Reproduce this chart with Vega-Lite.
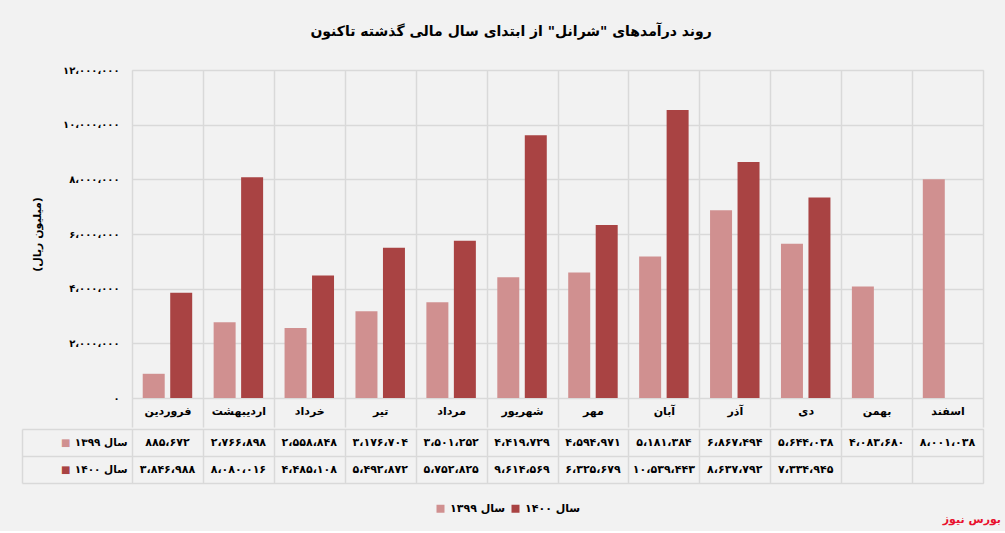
{
  "$schema": "https://vega.github.io/schema/vega-lite/v6.json",
  "background": "#f2f2f2",
  "padding": {"left": 20, "right": 5, "top": 24, "bottom": 5},
  "config": {
    "locale": {
      "number": {
        "decimal": ".",
        "thousands": "،",
        "grouping": [3],
        "currency": ["", ""],
        "numerals": ["۰", "۱", "۲", "۳", "۴", "۵", "۶", "۷", "۸", "۹"]
      }
    },
    "font": "DejaVu Sans",
    "view": {"stroke": "#d9d9d9", "fill": "#f2f2f2"},
    "axis": {
      "labelFont": "DejaVu Sans",
      "labelFontWeight": "bold",
      "labelColor": "#000000",
      "gridColor": "#d9d9d9",
      "gridWidth": 1.5,
      "domain": false,
      "ticks": false
    }
  },
  "title": {
    "text": "روند درآمدهای \"شرانل\" از ابتدای سال مالی گذشته تاکنون",
    "font": "DejaVu Sans",
    "fontSize": 14,
    "fontWeight": "bold",
    "color": "#000000",
    "anchor": "middle",
    "offset": 26
  },
  "data": {
    "values": [
      {"month": "فروردین", "year": "سال ۱۳۹۹", "value": 885672},
      {"month": "فروردین", "year": "سال ۱۴۰۰", "value": 3846988},
      {"month": "اردیبهشت", "year": "سال ۱۳۹۹", "value": 2766898},
      {"month": "اردیبهشت", "year": "سال ۱۴۰۰", "value": 8080016},
      {"month": "خرداد", "year": "سال ۱۳۹۹", "value": 2558848},
      {"month": "خرداد", "year": "سال ۱۴۰۰", "value": 4485108},
      {"month": "تیر", "year": "سال ۱۳۹۹", "value": 3176704},
      {"month": "تیر", "year": "سال ۱۴۰۰", "value": 5492872},
      {"month": "مرداد", "year": "سال ۱۳۹۹", "value": 3501252},
      {"month": "مرداد", "year": "سال ۱۴۰۰", "value": 5752825},
      {"month": "شهریور", "year": "سال ۱۳۹۹", "value": 4419729},
      {"month": "شهریور", "year": "سال ۱۴۰۰", "value": 9614569},
      {"month": "مهر", "year": "سال ۱۳۹۹", "value": 4594971},
      {"month": "مهر", "year": "سال ۱۴۰۰", "value": 6325679},
      {"month": "آبان", "year": "سال ۱۳۹۹", "value": 5181384},
      {"month": "آبان", "year": "سال ۱۴۰۰", "value": 10539443},
      {"month": "آذر", "year": "سال ۱۳۹۹", "value": 6867494},
      {"month": "آذر", "year": "سال ۱۴۰۰", "value": 8637792},
      {"month": "دی", "year": "سال ۱۳۹۹", "value": 5644038},
      {"month": "دی", "year": "سال ۱۴۰۰", "value": 7334945},
      {"month": "بهمن", "year": "سال ۱۳۹۹", "value": 4083680},
      {"month": "اسفند", "year": "سال ۱۳۹۹", "value": 8001038}
    ]
  },
  "spacing": -7,
  "vconcat": [
    {
      "width": 851,
      "height": 328,
      "mark": {"type": "bar"},
      "encoding": {
        "x": {
          "field": "month",
          "type": "nominal",
          "sort": ["فروردین", "اردیبهشت", "خرداد", "تیر", "مرداد", "شهریور", "مهر", "آبان", "آذر", "دی", "بهمن", "اسفند"],
          "scale": {"paddingInner": 0, "paddingOuter": 0},
          "axis": {
            "title": null,
            "orient": "bottom",
            "labelAngle": 0,
            "labelFontSize": 11,
            "tickBand": "extent",
            "ticks": true,
            "tickSize": 29,
            "tickWidth": 1.5,
            "tickColor": "#d9d9d9",
            "grid": true,
            "labelPadding": -22
          }
        },
        "xOffset": {
          "field": "year",
          "type": "nominal",
          "sort": ["سال ۱۳۹۹", "سال ۱۴۰۰"],
          "scale": {"paddingInner": 0.2, "paddingOuter": 0.39}
        },
        "y": {
          "field": "value",
          "type": "quantitative",
          "scale": {"domain": [0, 12000000]},
          "axis": {
            "title": "(میلیون ریال)",
            "titleFont": "DejaVu Sans",
            "titleFontSize": 11,
            "titleFontWeight": "bold",
            "titleColor": "#000000",
            "titlePadding": 20,
            "values": [0, 2000000, 4000000, 6000000, 8000000, 10000000, 12000000],
            "format": ",.0f",
            "labelFontSize": 10,
            "labelPadding": 13,
            "grid": true
          }
        },
        "color": {
          "field": "year",
          "type": "nominal",
          "scale": {"domain": ["سال ۱۳۹۹", "سال ۱۴۰۰"], "range": ["#d09090", "#a94343"]},
          "legend": {
            "orient": "none",
            "legendX": 303,
            "legendY": 433,
            "direction": "horizontal",
            "title": null,
            "symbolType": "square",
            "symbolSize": 64,
            "symbolStrokeWidth": 0,
            "labelFont": "DejaVu Sans",
            "labelFontSize": 11,
            "labelFontWeight": "bold",
            "labelColor": "#000000",
            "columnPadding": 4,
            "labelOffset": 4
          }
        }
      }
    },
    {
      "width": 851,
      "height": 54,
      "title": {
        "text": "بورس نیوز",
        "orient": "bottom",
        "anchor": "end",
        "color": "#e8112d",
        "font": "DejaVu Sans",
        "fontSize": 11,
        "fontWeight": "bold",
        "offset": 30,
        "dx": 18
      },
      "encoding": {
        "x": {
          "field": "month",
          "type": "nominal",
          "sort": ["فروردین", "اردیبهشت", "خرداد", "تیر", "مرداد", "شهریور", "مهر", "آبان", "آذر", "دی", "بهمن", "اسفند"],
          "scale": {"paddingInner": 0, "paddingOuter": 0},
          "axis": {"title": null, "labels": false, "grid": true, "tickBand": "extent"}
        },
        "text": {"field": "value", "type": "quantitative", "format": ","}
      },
      "layer": [
        {
          "mark": {"type": "text", "fontWeight": "bold", "fontSize": 11, "font": "DejaVu Sans", "color": "#000000"},
          "encoding": {
            "y": {
              "field": "year",
              "type": "nominal",
              "sort": ["سال ۱۳۹۹", "سال ۱۴۰۰"],
              "scale": {"paddingInner": 0, "paddingOuter": 0},
              "axis": {
                "title": null,
                "orient": "left",
                "grid": true,
                "tickBand": "extent",
                "labelFontSize": 10.5,
                "labelPadding": 5
              }
            }
          }
        },
        {
          "mark": {"type": "text", "opacity": 0},
          "encoding": {
            "y": {
              "field": "year",
              "type": "nominal",
              "sort": ["سال ۱۳۹۹", "سال ۱۴۰۰"],
              "axis": {
                "title": null,
                "orient": "left",
                "offset": 0,
                "grid": false,
                "ticks": true,
                "tickBand": "extent",
                "tickSize": 110,
                "tickWidth": 1.5,
                "tickColor": "#d9d9d9",
                "labelExpr": "datum.value == 'سال ۱۳۹۹' || datum.value == 'سال ۱۴۰۰' ? '■' : ''",
                "labelFontSize": 10,
                "labelBaseline": "middle",
                "labelColor": {"condition": {"test": "datum.value == 'سال ۱۳۹۹'", "value": "#d09090"}, "value": "#a94343"},
                "labelPadding": -48
              }
            }
          }
        },
        {
          "mark": {"type": "text", "opacity": 0},
          "encoding": {
            "y": {
              "field": "year",
              "type": "nominal",
              "sort": ["سال ۱۳۹۹", "سال ۱۴۰۰"],
              "axis": {
                "title": null,
                "orient": "left",
                "offset": 110,
                "grid": false,
                "ticks": false,
                "labels": false,
                "domain": true,
                "domainColor": "#d9d9d9",
                "domainWidth": 1.5
              }
            }
          }
        }
      ],
      "resolve": {"axis": {"y": "independent"}}
    }
  ]
}
